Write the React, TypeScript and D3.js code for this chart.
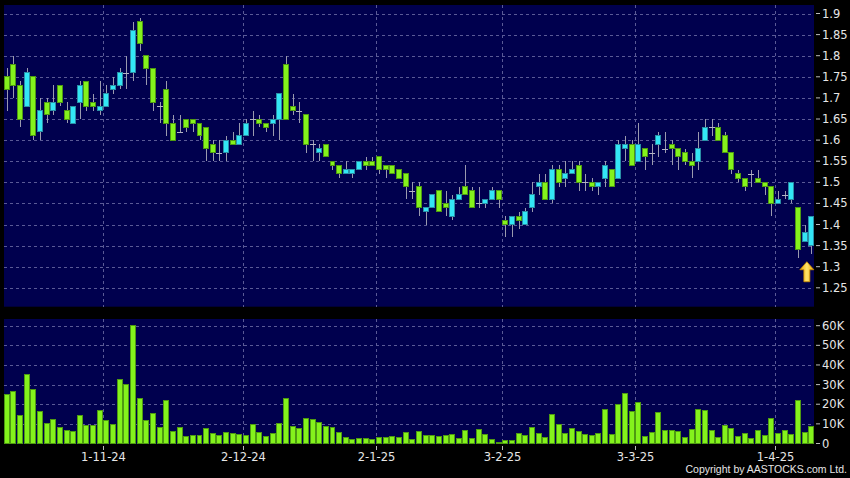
import * as d3 from "d3"

// trading days per month (HK), Oct 2024 - Apr 2025
const tradingDays: [string, number[]][] = [
  ["2024-10", [10, 14, 15, 16, 17, 18, 21, 22, 23, 24, 25, 28, 29, 30, 31]],
  ["2024-11", [1, 4, 5, 6, 7, 8, 11, 12, 13, 14, 15, 18, 19, 20, 21, 22, 25, 26, 27, 28, 29]],
  ["2024-12", [2, 3, 4, 5, 6, 9, 10, 11, 12, 13, 16, 17, 18, 19, 20, 23, 24, 27, 30, 31]],
  ["2025-01", [2, 3, 6, 7, 8, 9, 10, 13, 14, 15, 16, 17, 20, 21, 22, 23, 24, 27, 28]],
  ["2025-02", [3, 4, 5, 6, 7, 10, 11, 12, 13, 14, 17, 18, 19, 20, 21, 24, 25, 26, 27, 28]],
  ["2025-03", [3, 4, 5, 6, 7, 10, 11, 12, 13, 14, 17, 18, 19, 20, 21, 24, 25, 26, 27, 28, 31]],
  ["2025-04", [1, 2, 3, 7, 8, 9]],
]

const dates = tradingDays.flatMap(([m, days]) => days.map((d) => `${m}-${String(d).padStart(2, "0")}`))

const open = [
  1.75, 1.78, 1.73, 1.68, 1.75, 1.62, 1.69, 1.67, 1.73, 1.67,
  1.64, 1.69, 1.74, 1.69, 1.67, 1.68, 1.72, 1.73, 1.76, 1.76,
  1.88, 1.80, 1.77, 1.68, 1.72, 1.64, 1.62, 1.65, 1.65, 1.64,
  1.63, 1.59, 1.57, 1.57, 1.60, 1.59, 1.61, 1.65, 1.65, 1.64,
  1.64, 1.65, 1.78, 1.68, 1.67, 1.66, 1.59, 1.57, 1.59, 1.55,
  1.54, 1.52, 1.52, 1.53, 1.55, 1.55, 1.56, 1.54, 1.54, 1.53,
  1.52, 1.48, 1.49, 1.43, 1.44, 1.48, 1.45, 1.42, 1.46, 1.49,
  1.48, 1.45, 1.45, 1.46, 1.48, 1.41, 1.40, 1.42, 1.40, 1.44,
  1.49, 1.50, 1.46, 1.53, 1.51, 1.52, 1.54, 1.50, 1.50, 1.49,
  1.51, 1.53, 1.51, 1.58, 1.59, 1.55, 1.58, 1.57, 1.59, 1.58,
  1.59, 1.58, 1.57, 1.55, 1.55, 1.60, 1.63, 1.63, 1.61, 1.57,
  1.52, 1.51, 1.52, 1.51, 1.50, 1.49, 1.45, 1.47, 1.46, 1.44,
  1.36, 1.35,
]
const high = [
  1.77, 1.80, 1.74, 1.77, 1.75, 1.70, 1.70, 1.73, 1.73, 1.69,
  1.68, 1.74, 1.74, 1.71, 1.74, 1.73, 1.75, 1.77, 1.80, 1.88,
  1.89, 1.80, 1.77, 1.69, 1.74, 1.66, 1.66, 1.65, 1.65, 1.64,
  1.63, 1.60, 1.60, 1.61, 1.62, 1.64, 1.65, 1.67, 1.66, 1.64,
  1.66, 1.71, 1.80, 1.71, 1.69, 1.66, 1.60, 1.59, 1.59, 1.55,
  1.54, 1.55, 1.53, 1.55, 1.56, 1.56, 1.56, 1.54, 1.54, 1.53,
  1.52, 1.50, 1.50, 1.44, 1.47, 1.48, 1.48, 1.47, 1.49, 1.54,
  1.49, 1.49, 1.46, 1.49, 1.48, 1.42, 1.42, 1.43, 1.44, 1.50,
  1.52, 1.52, 1.54, 1.54, 1.55, 1.55, 1.55, 1.52, 1.51, 1.50,
  1.55, 1.53, 1.60, 1.61, 1.60, 1.64, 1.58, 1.59, 1.62, 1.62,
  1.60, 1.58, 1.58, 1.57, 1.62, 1.65, 1.65, 1.64, 1.62, 1.57,
  1.53, 1.51, 1.53, 1.53, 1.50, 1.49, 1.48, 1.48, 1.50, 1.44,
  1.40, 1.42,
]
const low = [
  1.67, 1.70, 1.63, 1.68, 1.60, 1.60, 1.64, 1.66, 1.68, 1.64,
  1.64, 1.65, 1.67, 1.67, 1.66, 1.68, 1.71, 1.72, 1.72, 1.74,
  1.81, 1.73, 1.67, 1.64, 1.61, 1.60, 1.62, 1.62, 1.62, 1.60,
  1.55, 1.55, 1.55, 1.55, 1.59, 1.59, 1.61, 1.61, 1.63, 1.62,
  1.61, 1.60, 1.65, 1.66, 1.64, 1.57, 1.55, 1.55, 1.56, 1.53,
  1.51, 1.52, 1.51, 1.53, 1.53, 1.54, 1.52, 1.51, 1.52, 1.51,
  1.46, 1.46, 1.42, 1.40, 1.44, 1.43, 1.42, 1.41, 1.46, 1.47,
  1.44, 1.44, 1.44, 1.46, 1.44, 1.37, 1.37, 1.39, 1.40, 1.43,
  1.47, 1.46, 1.45, 1.49, 1.49, 1.52, 1.48, 1.48, 1.48, 1.47,
  1.49, 1.49, 1.51, 1.55, 1.54, 1.55, 1.53, 1.54, 1.56, 1.57,
  1.54, 1.53, 1.54, 1.51, 1.53, 1.60, 1.61, 1.60, 1.57, 1.52,
  1.50, 1.48, 1.49, 1.50, 1.47, 1.42, 1.45, 1.46, 1.45, 1.32,
  1.36, 1.33,
]
const close = [
  1.72, 1.73, 1.65, 1.76, 1.61, 1.67, 1.66, 1.69, 1.69, 1.65,
  1.68, 1.73, 1.68, 1.68, 1.68, 1.71, 1.73, 1.76, 1.76, 1.86,
  1.83, 1.77, 1.69, 1.68, 1.64, 1.60, 1.62, 1.63, 1.64, 1.61,
  1.58, 1.57, 1.57, 1.60, 1.59, 1.61, 1.64, 1.65, 1.64, 1.63,
  1.65, 1.71, 1.65, 1.67, 1.67, 1.59, 1.59, 1.58, 1.56, 1.54,
  1.52, 1.53, 1.53, 1.55, 1.54, 1.54, 1.53, 1.53, 1.52, 1.51,
  1.49, 1.48, 1.44, 1.44, 1.47, 1.43, 1.44, 1.46, 1.47, 1.47,
  1.44, 1.45, 1.46, 1.48, 1.46, 1.40, 1.42, 1.41, 1.43, 1.47,
  1.50, 1.46, 1.53, 1.50, 1.52, 1.53, 1.50, 1.50, 1.49, 1.50,
  1.54, 1.49, 1.59, 1.59, 1.54, 1.59, 1.56, 1.57, 1.61, 1.58,
  1.58, 1.56, 1.55, 1.54, 1.58, 1.63, 1.63, 1.60, 1.57, 1.53,
  1.51, 1.49, 1.52, 1.50, 1.49, 1.45, 1.46, 1.47, 1.50, 1.34,
  1.38, 1.42,
]
// volume in thousands of shares
const volume = [
  24.9, 26.6, 14.4, 35.1, 27.5, 16.4, 10.2, 12.4, 8.1, 6.8,
  6.3, 14.4, 9.2, 9.2, 16.6, 11.5, 9.8, 32.7, 30.0, 60.0,
  22.9, 11.7, 15.4, 8.0, 21.9, 6.1, 8.3, 3.4, 3.9, 3.9,
  7.5, 5.3, 3.9, 5.8, 5.3, 4.7, 4.2, 9.7, 5.6, 3.7,
  5.3, 10.2, 22.9, 8.5, 7.5, 12.7, 12.4, 10.8, 8.5, 8.1,
  5.8, 3.1, 2.2, 2.7, 2.5, 2.2, 3.2, 3.2, 3.7, 2.9,
  5.8, 2.0, 6.1, 4.2, 3.9, 3.4, 4.1, 4.7, 2.4, 6.6,
  2.7, 7.1, 4.6, 2.2, 0.3, 1.5, 1.5, 5.1, 4.2, 8.3,
  5.1, 3.1, 14.7, 9.5, 5.1, 7.6, 6.3, 4.5, 3.9, 5.1,
  17.3, 4.7, 20.0, 25.4, 16.3, 21.0, 3.7, 5.8, 15.6, 6.4,
  6.4, 6.3, 3.2, 7.1, 17.5, 16.8, 6.6, 3.2, 9.3, 7.6,
  3.6, 4.9, 2.7, 6.6, 4.2, 12.9, 5.3, 6.4, 4.7, 22.0,
  5.8, 8.8,
]

const priceTicks = [1.25, 1.3, 1.35, 1.4, 1.45, 1.5, 1.55, 1.6, 1.65, 1.7, 1.75, 1.8, 1.85, 1.9]
const volumeTicks = [0, 10, 20, 30, 40, 50, 60]
const monthStarts = ["2024-11-01", "2024-12-02", "2025-01-02", "2025-02-03", "2025-03-03", "2025-04-01"]
const monthLabels = ["1-11-24", "2-12-24", "2-1-25", "3-2-25", "3-3-25", "1-4-25"]

const W = 850
const H = 478
const LEFT = 4
const RIGHT = 814
const P_TOP = 5
const P_BOTTOM = 306.7
const V_TOP = 319
const V_BOTTOM = 444

const NAVY = "#00004e"
const GRID = "#5a5a96"
const UP_FILL = "#33e6f5"
const UP_STROKE = "#2a8fa6"
const DOWN_FILL = "#84f21c"
const DOWN_STROKE = "#4e9a12"
const WICK = "#9a9aae"
const TEXT = "#e6e6e6"
const FONT = "DejaVu Sans, Verdana, sans-serif"

export default function App() {
  const x = d3.scaleBand<string>().domain(dates).range([3.68, 814.25]).paddingInner(0.1)
  const bw = x.bandwidth()
  const yP = d3.scaleLinear().domain([1.3, 1.9]).range([266.7, 13.5])
  const yV = d3.scaleLinear().domain([0, 60]).range([443.5, 325.7])

  const candles = dates.map((d, i) => ({ d, o: open[i], h: high[i], l: low[i], c: close[i], v: volume[i] }))
  const last = candles[candles.length - 1]
  const ax = (x(last.d) ?? 0) + bw / 2 - 4.4
  const at = yP(last.l) + 7.7

  return (
    <>
      <style>{`body{margin:0;background:#000}`}</style>
      <svg width={W} height={H} style={{ display: "block", background: "#000" }}>
        <defs>
          <linearGradient id="arrowGrad" x1="0" x2="1" y1="0" y2="0">
            <stop offset="0" stopColor="#f0a800" />
            <stop offset="0.5" stopColor="#ffe46a" />
            <stop offset="1" stopColor="#f0a800" />
          </linearGradient>
        </defs>

        {/* panels */}
        <rect x={LEFT} y={P_TOP} width={RIGHT - LEFT} height={P_BOTTOM - P_TOP} fill={NAVY} />
        <rect x={LEFT} y={V_TOP} width={RIGHT - LEFT} height={V_BOTTOM - V_TOP} fill={NAVY} />

        {/* grid */}
        <g stroke={GRID} strokeWidth={1} strokeDasharray="3,3" shapeRendering="crispEdges">
          {priceTicks.map((t) => (
            <line key={"pg" + t} x1={LEFT} x2={RIGHT} y1={Math.round(yP(t)) + 0.5} y2={Math.round(yP(t)) + 0.5} />
          ))}
          {volumeTicks.slice(1).map((t) => (
            <line key={"vg" + t} x1={LEFT} x2={RIGHT} y1={Math.round(yV(t)) + 0.5} y2={Math.round(yV(t)) + 0.5} />
          ))}
          {monthStarts.map((m) => {
            const gx = Math.round(x(m) ?? 0) + 0.5
            return (
              <g key={"mg" + m}>
                <line x1={gx} x2={gx} y1={P_TOP} y2={P_BOTTOM} />
                <line x1={gx} x2={gx} y1={V_TOP} y2={V_BOTTOM} />
              </g>
            )
          })}
        </g>

        {/* candles */}
        <g shapeRendering="crispEdges">
          {candles.map((k) => {
            const x0 = x(k.d) ?? 0
            const cx = Math.round(x0 + bw / 2) + 0.5
            const up = k.c > k.o
            const doji = k.c === k.o
            const top = yP(Math.max(k.o, k.c))
            const bot = yP(Math.min(k.o, k.c))
            return (
              <g key={k.d}>
                <line x1={cx} x2={cx} y1={yP(k.h)} y2={yP(k.l)} stroke={WICK} strokeWidth={1} />
                {doji ? (
                  <line x1={x0} x2={x0 + bw} y1={Math.round(top) + 0.5} y2={Math.round(top) + 0.5} stroke="#b4b4c4" strokeWidth={1} />
                ) : (
                  <rect
                    x={x0 + 0.5}
                    y={top}
                    width={bw - 1}
                    height={Math.max(1, bot - top)}
                    fill={up ? UP_FILL : DOWN_FILL}
                    stroke={up ? UP_STROKE : DOWN_STROKE}
                    strokeWidth={1}
                  />
                )}
              </g>
            )
          })}
        </g>

        {/* volume */}
        <g shapeRendering="crispEdges">
          {candles.map((k) => {
            const x0 = x(k.d) ?? 0
            return (
              <rect
                key={"v" + k.d}
                x={x0 + 0.5}
                y={yV(k.v)}
                width={bw - 1}
                height={Math.max(0.5, yV(0) - yV(k.v))}
                fill={DOWN_FILL}
                stroke={DOWN_STROKE}
                strokeWidth={1}
              />
            )
          })}
        </g>

        {/* right axes */}
        <g fontFamily={FONT} fontSize={11.5} fill={TEXT}>
          {priceTicks.map((t) => (
            <g key={"pt" + t}>
              <line x1={816} x2={820} y1={yP(t)} y2={yP(t)} stroke="#bbb" />
              <text x={822} y={yP(t)} dominantBaseline="central">
                {d3.format("~g")(t)}
              </text>
            </g>
          ))}
          {volumeTicks.map((t) => (
            <g key={"vt" + t}>
              <line x1={816} x2={820} y1={yV(t)} y2={yV(t)} stroke="#bbb" />
              <text x={822} y={yV(t)} dominantBaseline="central">
                {t === 0 ? "0" : `${t}K`}
              </text>
            </g>
          ))}
        </g>

        {/* x axis */}
        <g fontFamily={FONT} fontSize={11.5} fill={TEXT}>
          {monthStarts.map((m, i) => {
            const gx = Math.round(x(m) ?? 0) + 0.5
            return (
              <g key={"xl" + m}>
                <line x1={gx} x2={gx} y1={446} y2={450} stroke="#bbb" />
                <text x={gx} y={461} textAnchor="middle">
                  {monthLabels[i]}
                </text>
              </g>
            )
          })}
        </g>

        {/* last-price marker */}
        <path
          d={`M${ax},${at} L${ax + 7},${at + 8} L${ax + 3},${at + 8} L${ax + 3},${at + 20} L${ax - 3},${at + 20} L${ax - 3},${at + 8} L${ax - 7},${at + 8} Z`}
          fill="url(#arrowGrad)"
          stroke="#c88a00"
          strokeWidth={0.8}
        />

        <text
          x={847}
          y={473}
          textAnchor="end"
          fontFamily="Liberation Sans, Arial, sans-serif"
          fontSize={10.5}
          fill={TEXT}
        >
          Copyright by AASTOCKS.com Ltd.
        </text>
      </svg>
    </>
  )
}
